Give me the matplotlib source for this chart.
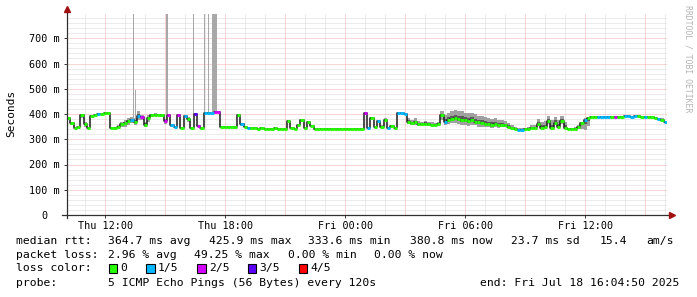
"""SmokePing style latency graph (30 h window) rebuilt with matplotlib."""

import numpy as np
import matplotlib

matplotlib.use("Agg")
import matplotlib.pyplot as plt
from matplotlib.patches import Rectangle

# ---- data ---------------------------------------------------------------
# median rtt in ms, one value per 10 min, starting Thu 10:04:50
median_ms = [
    385, 365, 345, 348, 395, 360, 345, 392, 398, 400,
    400, 402, 402, 345, 343, 350, 360, 365, 372, 378,
    370, 392, 388, 358, 385, 395, 397, 398, 395, 372,
    398, 355, 348, 398, 345, 392, 380, 345, 400, 352,
    345, 405, 405, 405, 406, 406, 350, 348, 348, 348,
    350, 398, 362, 348, 345, 343, 343, 342, 343, 342,
    342, 342, 343, 342, 342, 342, 372, 345, 342, 355,
    375, 345, 368, 352, 342, 342, 342, 342, 342, 342,
    342, 342, 342, 342, 342, 342, 342, 342, 342, 402,
    345, 385, 348, 372, 350, 378, 345, 352, 345, 402,
    403, 400, 370, 365, 368, 362, 360, 362, 360, 358,
    357, 360, 395, 370, 378, 382, 385, 380, 378, 375,
    372, 375, 370, 368, 365, 362, 360, 358, 360, 355,
    358, 355, 350, 345, 340, 338, 338, 340, 342, 345,
    345, 362, 345, 348, 372, 345, 365, 350, 372, 345,
    340, 340, 342, 350, 365, 378, 386, 388, 388, 387,
    388, 388, 387, 388, 390, 389, 390, 391, 392, 390,
    391, 392, 390, 389, 388, 388, 386, 382, 378, 368,
]

# lost pings out of 5 for each step
loss_count = [
    0, 0, 0, 0, 0, 0, 0, 0, 0, 1,
    0, 0, 0, 0, 0, 0, 0, 0, 0, 1,
    0, 1, 2, 0, 0, 0, 0, 0, 0, 2,
    2, 1, 1, 2, 0, 1, 0, 0, 3, 2,
    0, 1, 1, 1, 2, 2, 0, 0, 0, 0,
    0, 0, 1, 0, 1, 0, 0, 0, 0, 0,
    0, 0, 0, 0, 0, 0, 0, 0, 0, 0,
    0, 0, 0, 0, 0, 0, 0, 0, 0, 0,
    0, 0, 0, 0, 0, 0, 0, 0, 0, 2,
    1, 0, 0, 1, 0, 0, 1, 0, 0, 1,
    1, 1, 0, 0, 0, 0, 0, 0, 0, 0,
    0, 0, 0, 1, 0, 0, 0, 0, 0, 0,
    0, 0, 0, 0, 0, 0, 0, 0, 0, 0,
    0, 0, 0, 0, 0, 1, 1, 0, 0, 0,
    0, 0, 0, 0, 0, 0, 0, 0, 0, 0,
    0, 0, 0, 0, 0, 1, 0, 0, 0, 1,
    1, 1, 1, 0, 2, 0, 0, 1, 1, 1,
    1, 0, 0, 1, 0, 0, 0, 1, 0, 1,
]

# smoke spread above / below the median (ms)
smoke_up = [
    0, 5, 0, 0, 5, 10, 0, 5, 0, 0,
    0, 0, 0, 0, 0, 5, 10, 10, 12, 10,
    15, 20, 10, 12, 10, 5, 5, 0, 5, 10,
    0, 5, 5, 0, 5, 0, 8, 5, 0, 5,
    0, 0, 0, 0, 0, 0, 0, 0, 0, 0,
    0, 0, 0, 0, 0, 0, 0, 0, 0, 0,
    0, 0, 0, 0, 0, 0, 0, 0, 0, 0,
    0, 0, 0, 0, 0, 0, 0, 0, 0, 0,
    0, 0, 0, 0, 0, 0, 0, 0, 0, 0,
    5, 5, 5, 5, 5, 5, 5, 5, 5, 0,
    0, 0, 15, 12, 15, 10, 10, 12, 10, 10,
    8, 10, 15, 25, 25, 28, 30, 30, 32, 30,
    30, 28, 30, 25, 28, 25, 25, 22, 25, 20,
    20, 18, 15, 12, 8, 5, 5, 5, 8, 10,
    12, 20, 25, 25, 20, 30, 25, 25, 20, 25,
    5, 5, 5, 5, 5, 5, 3, 3, 3, 3,
    3, 3, 3, 3, 3, 3, 3, 3, 3, 3,
    3, 3, 3, 3, 3, 3, 3, 3, 5, 5,
]
smoke_down = [
    0, 10, 0, 0, 10, 10, 0, 5, 0, 0,
    0, 0, 0, 0, 0, 5, 10, 15, 15, 12,
    15, 15, 10, 8, 15, 5, 5, 0, 5, 10,
    0, 5, 5, 0, 0, 5, 10, 0, 0, 5,
    0, 0, 0, 0, 0, 0, 0, 0, 0, 0,
    0, 10, 10, 0, 0, 0, 0, 0, 0, 0,
    0, 0, 0, 0, 0, 0, 0, 0, 0, 0,
    0, 0, 0, 0, 0, 0, 0, 0, 0, 0,
    0, 0, 0, 0, 0, 0, 0, 0, 0, 0,
    5, 5, 5, 5, 5, 5, 5, 5, 5, 0,
    0, 0, 10, 8, 10, 8, 8, 5, 8, 5,
    5, 8, 20, 12, 18, 18, 20, 20, 20, 18,
    18, 20, 15, 18, 15, 15, 12, 12, 10, 10,
    8, 8, 5, 5, 3, 3, 3, 3, 3, 5,
    5, 5, 5, 5, 10, 5, 10, 5, 10, 5,
    3, 3, 5, 10, 25, 40, 35, 5, 3, 3,
    3, 3, 3, 3, 3, 3, 3, 3, 3, 3,
    3, 3, 3, 3, 3, 3, 3, 3, 5, 5,
]

# single slow pings reaching the top of the graph (hours since Thu 00:00)
spike_hour = [13.40, 13.50, 15.075, 16.40, 16.95, 17.15, 17.475]
spike_len = [0.05, 0.05, 0.10, 0.05, 0.05, 0.05, 0.25]
spike_base = [375, 375, 400, 400, 405, 405, 405]
spike_top = [795, 495, 795, 795, 795, 795, 795]

x_tick_hours = [12, 18, 24, 30, 36]
x_tick_labels = ["Thu 12:00", "Thu 18:00", "Fri 00:00", "Fri 06:00", "Fri 12:00"]
y_tick_values = [0, 100, 200, 300, 400, 500, 600, 700]
y_tick_labels = ["0  ", "100 m", "200 m", "300 m", "400 m", "500 m", "600 m", "700 m"]

loss_colors = ["#26ff00", "#00b8ff", "#d400ff", "#5b00ff", "#ff0000"]
loss_names = ["0", "1/5", "2/5", "3/5", "4/5"]

# ---- figure --------------------------------------------------------------
W, H = 697, 297
MONO = "DejaVu Sans Mono"
FS = 8.2
FS_AX = 7.3

fig = plt.figure(figsize=(W / 100, H / 100), dpi=100)
ax = fig.add_axes([67 / W, 82 / H, 600 / W, 202 / H])

t_start = 10 + 4 / 60 + 50 / 3600
step = 1 / 6
t = t_start + np.arange(len(median_ms)) * step
med = np.array(median_ms, dtype=float)
up = np.array(smoke_up, dtype=float)
down = np.array(smoke_down, dtype=float)

ax.set_xlim(t_start, t_start + 30)
ax.set_ylim(0, 800)

# grid: minor gray every hour / 20 m, major red every 3 h / 100 m
dots = (0, (1, 1))
for h in np.arange(11, 41, 1):
    if h % 3:
        ax.axvline(h, color="#d8d8d8", lw=0.72, ls=dots, zorder=0)
for v in range(20, 801, 20):
    if v % 100:
        ax.axhline(v, color="#d8d8d8", lw=0.72, ls=dots, zorder=0)
for h in range(12, 41, 3):
    ax.axvline(h, color="#f0aeae", lw=0.72, ls=dots, zorder=0.5)
for v in range(100, 701, 100):
    ax.axhline(v, color="#f0aeae", lw=0.72, ls=dots, zorder=0.5)

# smoke
t_edges = np.append(t, t[-1] + step)
hi = np.append(med + up, med[-1] + up[-1])
lo = np.append(med - down, med[-1] - down[-1])
mid_hi = np.append(med + up * 0.4, med[-1])
mid_lo = np.append(med - down * 0.4, med[-1])
ax.fill_between(t_edges, lo, hi, step="post", color="#a0a0a0", lw=0, zorder=1)
ax.fill_between(t_edges, mid_lo, mid_hi, step="post", color="#5a5a5a", lw=0, zorder=1.1)
ax.bar(spike_hour, np.array(spike_top) - np.array(spike_base), width=spike_len,
       bottom=spike_base, color="#a8a8a8", lw=0, zorder=1)

# median: dark connecting steps, coloured by loss on each step
ax.step(t_edges, np.append(med, med[-1]), where="post", color="#1a1a1a", lw=1.1, zorder=2)
ax.hlines(med, t, t + step, colors=[loss_colors[k] for k in loss_count],
          lw=2.1, zorder=3)

# axes look
for s in ax.spines.values():
    s.set_visible(False)
ax.set_xticks(x_tick_hours)
ax.set_xticklabels(x_tick_labels, fontfamily=MONO, fontsize=FS_AX)
ax.set_yticks(y_tick_values)
ax.set_yticklabels(y_tick_labels, fontfamily=MONO, fontsize=FS_AX)
ax.tick_params(axis="x", length=2, width=0.72, pad=2, color="#404040")
ax.tick_params(axis="y", length=2, width=0.72, pad=3, color="#404040")

axis_col = "#303030"
arrow_col = "#a01010"
ax.plot([-5 / 600, 1.005], [0, 0], transform=ax.transAxes, color=axis_col,
        lw=0.9, clip_on=False, zorder=4)
ax.plot([0, 0], [-3 / 202, 1.01], transform=ax.transAxes, color=axis_col,
        lw=0.9, clip_on=False, zorder=4)
ax.plot([1.008], [0], transform=ax.transAxes, marker=">", ms=4, color=arrow_col,
        clip_on=False, zorder=5)
ax.plot([0], [1.02], transform=ax.transAxes, marker="^", ms=4, color=arrow_col,
        clip_on=False, zorder=5)

fig.text(11 / W, 1 - 113 / H, "Seconds", rotation=90, ha="center", va="center",
         fontfamily=MONO, fontsize=8)
fig.text(688 / W, 1 - 5 / H, "RRDTOOL / TOBI OETIKER", rotation=270, ha="center",
         va="top", fontfamily=MONO, fontsize=5.9, color="#b4b4b4")


def line(x, y, s):
    fig.text(x / W, 1 - y / H, s, ha="left", va="center", fontfamily=MONO, fontsize=FS)


line(16, 241, "median rtt:")
line(107.7, 241, "364.7 ms avg")
line(208.7, 241, "425.9 ms max")
line(308.3, 241, "333.6 ms min")
line(409.7, 241, "380.8 ms now")
line(510.7, 241, "23.7 ms sd")
line(600, 241, "15.4")
line(646.5, 241, "am/s")

line(16, 255, "packet loss:")
line(107.7, 255, "2.96 % avg")
line(194, 255, "49.25 % max")
line(288, 255, "0.00 % min")
line(374, 255, "0.00 % now")

line(16, 268, "loss color:")
box_x = [108.5, 146, 197, 247.5, 298.5]
for bx, col, name in zip(box_x, loss_colors, loss_names):
    fig.add_artist(Rectangle((bx / W, 1 - 272.5 / H), 8.5 / W, 8.5 / H,
                             transform=fig.transFigure, facecolor=col,
                             edgecolor="black", lw=0.8))
    line(bx + 12, 268, name)

line(16, 283, "probe:")
line(107.7, 283, "5 ICMP Echo Pings (56 Bytes) every 120s")
line(480, 283, "end: Fri Jul 18 16:04:50 2025")

fig.savefig("out.png", dpi=100, facecolor="white")
